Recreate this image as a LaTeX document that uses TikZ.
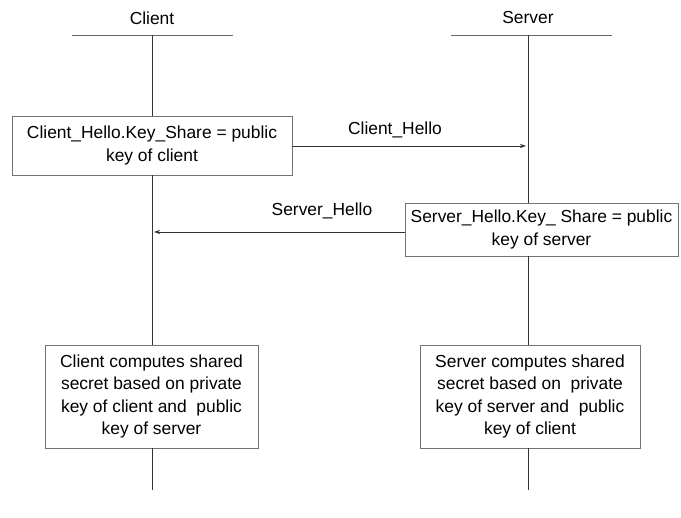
\documentclass[tikz,border=0pt]{standalone}
\usepackage{fontspec}
\setmainfont{Liberation Sans}
\usetikzlibrary{arrows.meta}
\begin{document}
\begin{tikzpicture}[x=1pt,y=-1pt,
  lifeline/.style={draw=black!80,line width=0.7pt},
  header/.style={draw=black!60,line width=0.9pt},
  stepbox/.style={draw=black!55,line width=0.9pt,fill=white},
  txt/.style={font=\fontsize{17.4}{22.5}\selectfont,align=center,inner sep=0pt},
  msg/.style={draw=black!80,line width=0.7pt,-{Stealth[length=6pt,width=4pt]}}]
\useasboundingbox (0,0) rectangle (681,518);
% headers
\node[txt] (clientlbl) at (152,18) {Client};
\node[txt] (serverlbl) at (528,18) {Server};
\coordinate (ch) at (152,35);
\coordinate (sh) at (528,35);
\draw[header] (72,35) -- (233,35);
\draw[header] (451,35) -- (612,35);
% boxes
\draw[stepbox] (12,116) rectangle (292,175);
\node[txt] (cbox1) at (152,145.5) {Client\_Hello.Key\_Share = public\\key of client};
\draw[stepbox] (405,203) rectangle (678,256);
\node[txt] (sbox1) at (541.5,229.5) {Server\_Hello.Key\_ Share = public\\key of server};
\draw[stepbox] (45,345) rectangle (258,448);
\node[txt] (cbox2) at (151.5,396.5) {Client computes shared\\secret based on private\\key of client and\ \ public\\key of server};
\draw[stepbox] (420,345) rectangle (640,448);
\node[txt] (sbox2) at (530,396.5) {Server computes shared\\secret based on\ \ private\\key of server and\ \ public\\key of client};
% lifelines
\coordinate (c1) at (152,116);
\coordinate (c2) at (152,175);
\coordinate (c3) at (152,345);
\coordinate (c4) at (152,448);
\coordinate (c5) at (152,490);
\coordinate (s1) at (528,203);
\coordinate (s2) at (528,256);
\coordinate (s3) at (528,345);
\coordinate (s4) at (528,448);
\coordinate (s5) at (528,490);
\draw[lifeline] (ch) -- (c1);
\draw[lifeline] (c2) -- (c3);
\draw[lifeline] (c4) -- (c5);
\draw[lifeline] (sh) -- (s1);
\draw[lifeline] (s2) -- (s3);
\draw[lifeline] (s4) -- (s5);
% messages
\coordinate (m1a) at (292,146);
\coordinate (m1b) at (526,146);
\draw[msg] (m1a) -- (m1b);
\node[txt] (m1lbl) at (395,130) {Client\_Hello};
\coordinate (m2a) at (405,232);
\coordinate (m2b) at (154,232);
\draw[msg] (m2a) -- (m2b);
\node[txt] (m2lbl) at (322,211) {Server\_Hello};
\end{tikzpicture}
\end{document}
